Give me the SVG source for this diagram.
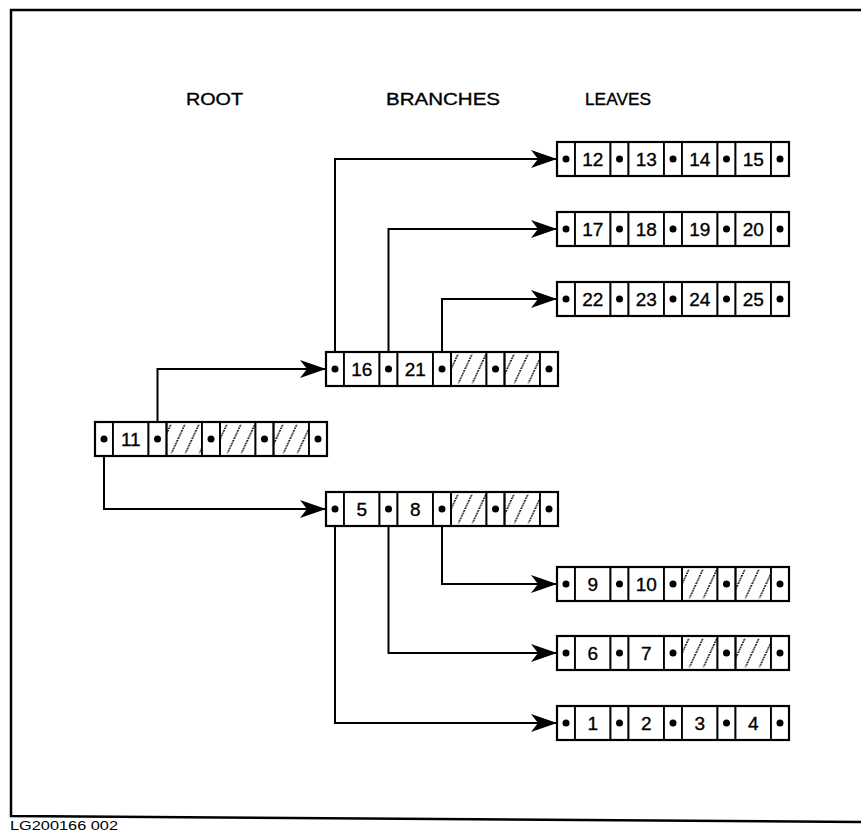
<svg xmlns="http://www.w3.org/2000/svg" width="862" height="836" viewBox="0 0 862 836">
<style>
  .cell{fill:#fff;stroke:#000;stroke-width:1.8}
  .hatch{fill:url(#hp);stroke:#000;stroke-width:1.8}
  .outline{fill:none;stroke:#000;stroke-width:2.2}
  .dot{fill:#000}
  .num{font-family:"Liberation Sans",Arial,sans-serif;font-size:19px;text-anchor:middle;fill:#000;stroke:#000;stroke-width:0.35}
  .hdr{font-family:"Liberation Sans",Arial,sans-serif;font-size:17px;fill:#000;stroke:#000;stroke-width:0.35}
  .conn{fill:none;stroke:#000;stroke-width:2;marker-end:url(#ah)}
</style>
<defs>
  <pattern id="hp" patternUnits="userSpaceOnUse" width="14" height="34" patternTransform="skewX(-25)">
    <line x1="7" y1="3" x2="7" y2="31" stroke="#000" stroke-width="1.7" stroke-dasharray="1.6 0.9"/>
  </pattern>
  <marker id="ah" markerUnits="userSpaceOnUse" markerWidth="28" markerHeight="20" refX="26" refY="9" orient="auto">
    <path d="M0,0 L26,9 L0,18 L7,9 z" fill="#000"/>
  </marker>
</defs>
<rect width="862" height="836" fill="#fff"/>
<g id="frame">
  <path d="M861 10 H11 V816 L861 822" fill="none" stroke="#000" stroke-width="2.5"/>
  <text x="10" y="830" font-family="'Liberation Sans',Arial,sans-serif" font-size="12" textLength="108" lengthAdjust="spacingAndGlyphs">LG200166 002</text>
</g>
<g id="headers">
  <text class="hdr" x="186" y="105" textLength="57" lengthAdjust="spacingAndGlyphs">ROOT</text>
  <text class="hdr" x="386" y="105" textLength="114" lengthAdjust="spacingAndGlyphs">BRANCHES</text>
  <text class="hdr" x="585" y="105" textLength="66" lengthAdjust="spacingAndGlyphs">LEAVES</text>
</g>
<g id="connectors">
  <path class="conn" d="M157.5 422 V369 H326"/>
  <path class="conn" d="M104 456 V509 H326"/>
  <path class="conn" d="M335 352 V159 H557"/>
  <path class="conn" d="M388.5 352 V229 H557"/>
  <path class="conn" d="M442 352 V299 H557"/>
  <path class="conn" d="M335 526 V723 H557"/>
  <path class="conn" d="M388.5 526 V653 H557"/>
  <path class="conn" d="M442 526 V584 H557"/>
</g>
<g id="root" transform="translate(95,422)">
  <rect class="cell" x="0" y="0" width="18" height="34"/><circle class="dot" cx="9" cy="17" r="3.5"/>
  <rect class="cell" x="18" y="0" width="35.5" height="34"/><text class="num" x="35.75" y="24">11</text>
  <rect class="cell" x="53.5" y="0" width="18" height="34"/><circle class="dot" cx="62.5" cy="17" r="3.5"/>
  <rect class="hatch" x="71.5" y="0" width="35.5" height="34"/>
  <rect class="cell" x="107" y="0" width="18" height="34"/><circle class="dot" cx="116" cy="17" r="3.5"/>
  <rect class="hatch" x="125" y="0" width="35.5" height="34"/>
  <rect class="cell" x="160.5" y="0" width="18" height="34"/><circle class="dot" cx="169.5" cy="17" r="3.5"/>
  <rect class="hatch" x="178.5" y="0" width="35.5" height="34"/>
  <rect class="cell" x="214" y="0" width="18" height="34"/><circle class="dot" cx="223" cy="17" r="3.5"/>
  <rect class="outline" x="0" y="0" width="232" height="34"/>
</g>
<g id="branch-upper" transform="translate(326,352)">
  <rect class="cell" x="0" y="0" width="18" height="34"/><circle class="dot" cx="9" cy="17" r="3.5"/>
  <rect class="cell" x="18" y="0" width="35.5" height="34"/><text class="num" x="35.75" y="24">16</text>
  <rect class="cell" x="53.5" y="0" width="18" height="34"/><circle class="dot" cx="62.5" cy="17" r="3.5"/>
  <rect class="cell" x="71.5" y="0" width="35.5" height="34"/><text class="num" x="89.25" y="24">21</text>
  <rect class="cell" x="107" y="0" width="18" height="34"/><circle class="dot" cx="116" cy="17" r="3.5"/>
  <rect class="hatch" x="125" y="0" width="35.5" height="34"/>
  <rect class="cell" x="160.5" y="0" width="18" height="34"/><circle class="dot" cx="169.5" cy="17" r="3.5"/>
  <rect class="hatch" x="178.5" y="0" width="35.5" height="34"/>
  <rect class="cell" x="214" y="0" width="18" height="34"/><circle class="dot" cx="223" cy="17" r="3.5"/>
  <rect class="outline" x="0" y="0" width="232" height="34"/>
</g>
<g id="branch-lower" transform="translate(326,492)">
  <rect class="cell" x="0" y="0" width="18" height="34"/><circle class="dot" cx="9" cy="17" r="3.5"/>
  <rect class="cell" x="18" y="0" width="35.5" height="34"/><text class="num" x="35.75" y="24">5</text>
  <rect class="cell" x="53.5" y="0" width="18" height="34"/><circle class="dot" cx="62.5" cy="17" r="3.5"/>
  <rect class="cell" x="71.5" y="0" width="35.5" height="34"/><text class="num" x="89.25" y="24">8</text>
  <rect class="cell" x="107" y="0" width="18" height="34"/><circle class="dot" cx="116" cy="17" r="3.5"/>
  <rect class="hatch" x="125" y="0" width="35.5" height="34"/>
  <rect class="cell" x="160.5" y="0" width="18" height="34"/><circle class="dot" cx="169.5" cy="17" r="3.5"/>
  <rect class="hatch" x="178.5" y="0" width="35.5" height="34"/>
  <rect class="cell" x="214" y="0" width="18" height="34"/><circle class="dot" cx="223" cy="17" r="3.5"/>
  <rect class="outline" x="0" y="0" width="232" height="34"/>
</g>
<g id="leaf-12-15" transform="translate(557,142)">
  <rect class="cell" x="0" y="0" width="18" height="34"/><circle class="dot" cx="9" cy="17" r="3.5"/>
  <rect class="cell" x="18" y="0" width="35.5" height="34"/><text class="num" x="35.75" y="24">12</text>
  <rect class="cell" x="53.5" y="0" width="18" height="34"/><circle class="dot" cx="62.5" cy="17" r="3.5"/>
  <rect class="cell" x="71.5" y="0" width="35.5" height="34"/><text class="num" x="89.25" y="24">13</text>
  <rect class="cell" x="107" y="0" width="18" height="34"/><circle class="dot" cx="116" cy="17" r="3.5"/>
  <rect class="cell" x="125" y="0" width="35.5" height="34"/><text class="num" x="142.75" y="24">14</text>
  <rect class="cell" x="160.5" y="0" width="18" height="34"/><circle class="dot" cx="169.5" cy="17" r="3.5"/>
  <rect class="cell" x="178.5" y="0" width="35.5" height="34"/><text class="num" x="196.25" y="24">15</text>
  <rect class="cell" x="214" y="0" width="18" height="34"/><circle class="dot" cx="223" cy="17" r="3.5"/>
  <rect class="outline" x="0" y="0" width="232" height="34"/>
</g>
<g id="leaf-17-20" transform="translate(557,212)">
  <rect class="cell" x="0" y="0" width="18" height="34"/><circle class="dot" cx="9" cy="17" r="3.5"/>
  <rect class="cell" x="18" y="0" width="35.5" height="34"/><text class="num" x="35.75" y="24">17</text>
  <rect class="cell" x="53.5" y="0" width="18" height="34"/><circle class="dot" cx="62.5" cy="17" r="3.5"/>
  <rect class="cell" x="71.5" y="0" width="35.5" height="34"/><text class="num" x="89.25" y="24">18</text>
  <rect class="cell" x="107" y="0" width="18" height="34"/><circle class="dot" cx="116" cy="17" r="3.5"/>
  <rect class="cell" x="125" y="0" width="35.5" height="34"/><text class="num" x="142.75" y="24">19</text>
  <rect class="cell" x="160.5" y="0" width="18" height="34"/><circle class="dot" cx="169.5" cy="17" r="3.5"/>
  <rect class="cell" x="178.5" y="0" width="35.5" height="34"/><text class="num" x="196.25" y="24">20</text>
  <rect class="cell" x="214" y="0" width="18" height="34"/><circle class="dot" cx="223" cy="17" r="3.5"/>
  <rect class="outline" x="0" y="0" width="232" height="34"/>
</g>
<g id="leaf-22-25" transform="translate(557,282)">
  <rect class="cell" x="0" y="0" width="18" height="34"/><circle class="dot" cx="9" cy="17" r="3.5"/>
  <rect class="cell" x="18" y="0" width="35.5" height="34"/><text class="num" x="35.75" y="24">22</text>
  <rect class="cell" x="53.5" y="0" width="18" height="34"/><circle class="dot" cx="62.5" cy="17" r="3.5"/>
  <rect class="cell" x="71.5" y="0" width="35.5" height="34"/><text class="num" x="89.25" y="24">23</text>
  <rect class="cell" x="107" y="0" width="18" height="34"/><circle class="dot" cx="116" cy="17" r="3.5"/>
  <rect class="cell" x="125" y="0" width="35.5" height="34"/><text class="num" x="142.75" y="24">24</text>
  <rect class="cell" x="160.5" y="0" width="18" height="34"/><circle class="dot" cx="169.5" cy="17" r="3.5"/>
  <rect class="cell" x="178.5" y="0" width="35.5" height="34"/><text class="num" x="196.25" y="24">25</text>
  <rect class="cell" x="214" y="0" width="18" height="34"/><circle class="dot" cx="223" cy="17" r="3.5"/>
  <rect class="outline" x="0" y="0" width="232" height="34"/>
</g>
<g id="leaf-9-10" transform="translate(557,567)">
  <rect class="cell" x="0" y="0" width="18" height="34"/><circle class="dot" cx="9" cy="17" r="3.5"/>
  <rect class="cell" x="18" y="0" width="35.5" height="34"/><text class="num" x="35.75" y="24">9</text>
  <rect class="cell" x="53.5" y="0" width="18" height="34"/><circle class="dot" cx="62.5" cy="17" r="3.5"/>
  <rect class="cell" x="71.5" y="0" width="35.5" height="34"/><text class="num" x="89.25" y="24">10</text>
  <rect class="cell" x="107" y="0" width="18" height="34"/><circle class="dot" cx="116" cy="17" r="3.5"/>
  <rect class="hatch" x="125" y="0" width="35.5" height="34"/>
  <rect class="cell" x="160.5" y="0" width="18" height="34"/><circle class="dot" cx="169.5" cy="17" r="3.5"/>
  <rect class="hatch" x="178.5" y="0" width="35.5" height="34"/>
  <rect class="cell" x="214" y="0" width="18" height="34"/><circle class="dot" cx="223" cy="17" r="3.5"/>
  <rect class="outline" x="0" y="0" width="232" height="34"/>
</g>
<g id="leaf-6-7" transform="translate(557,636)">
  <rect class="cell" x="0" y="0" width="18" height="34"/><circle class="dot" cx="9" cy="17" r="3.5"/>
  <rect class="cell" x="18" y="0" width="35.5" height="34"/><text class="num" x="35.75" y="24">6</text>
  <rect class="cell" x="53.5" y="0" width="18" height="34"/><circle class="dot" cx="62.5" cy="17" r="3.5"/>
  <rect class="cell" x="71.5" y="0" width="35.5" height="34"/><text class="num" x="89.25" y="24">7</text>
  <rect class="cell" x="107" y="0" width="18" height="34"/><circle class="dot" cx="116" cy="17" r="3.5"/>
  <rect class="hatch" x="125" y="0" width="35.5" height="34"/>
  <rect class="cell" x="160.5" y="0" width="18" height="34"/><circle class="dot" cx="169.5" cy="17" r="3.5"/>
  <rect class="hatch" x="178.5" y="0" width="35.5" height="34"/>
  <rect class="cell" x="214" y="0" width="18" height="34"/><circle class="dot" cx="223" cy="17" r="3.5"/>
  <rect class="outline" x="0" y="0" width="232" height="34"/>
</g>
<g id="leaf-1-4" transform="translate(557,706)">
  <rect class="cell" x="0" y="0" width="18" height="34"/><circle class="dot" cx="9" cy="17" r="3.5"/>
  <rect class="cell" x="18" y="0" width="35.5" height="34"/><text class="num" x="35.75" y="24">1</text>
  <rect class="cell" x="53.5" y="0" width="18" height="34"/><circle class="dot" cx="62.5" cy="17" r="3.5"/>
  <rect class="cell" x="71.5" y="0" width="35.5" height="34"/><text class="num" x="89.25" y="24">2</text>
  <rect class="cell" x="107" y="0" width="18" height="34"/><circle class="dot" cx="116" cy="17" r="3.5"/>
  <rect class="cell" x="125" y="0" width="35.5" height="34"/><text class="num" x="142.75" y="24">3</text>
  <rect class="cell" x="160.5" y="0" width="18" height="34"/><circle class="dot" cx="169.5" cy="17" r="3.5"/>
  <rect class="cell" x="178.5" y="0" width="35.5" height="34"/><text class="num" x="196.25" y="24">4</text>
  <rect class="cell" x="214" y="0" width="18" height="34"/><circle class="dot" cx="223" cy="17" r="3.5"/>
  <rect class="outline" x="0" y="0" width="232" height="34"/>
</g>
</svg>
